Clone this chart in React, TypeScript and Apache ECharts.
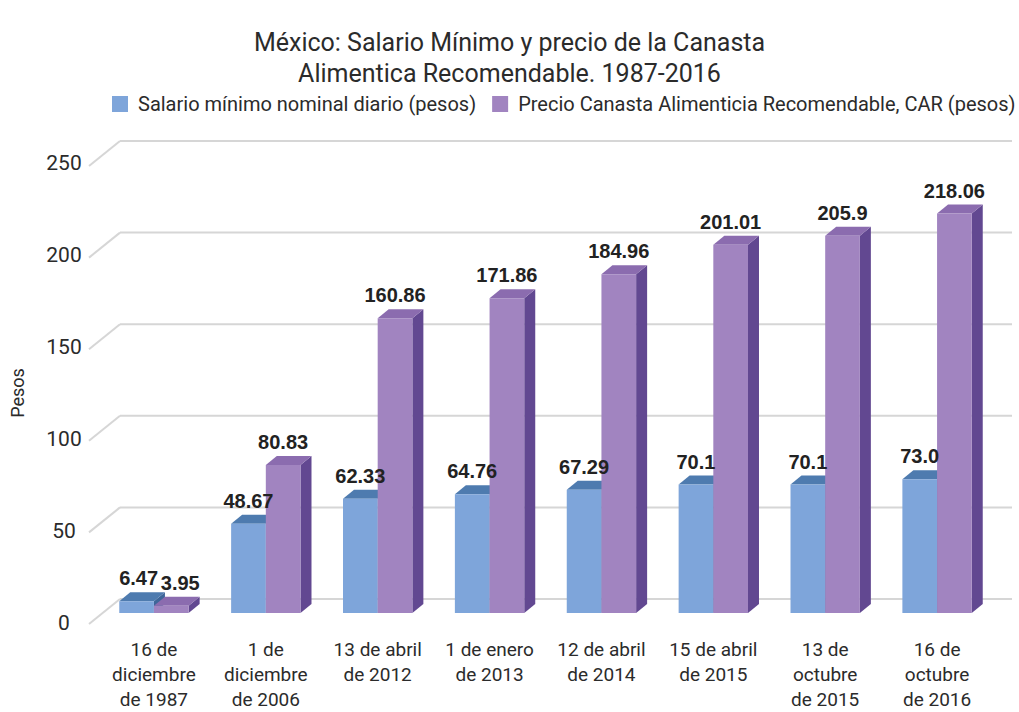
import React, { useEffect, useRef } from "react";
import * as echarts from "echarts";

const categories = [
  "16 de\ndiciembre\nde 1987",
  "1 de\ndiciembre\nde 2006",
  "13 de abril\nde 2012",
  "1 de enero\nde 2013",
  "12 de abril\nde 2014",
  "15 de abril\nde 2015",
  "13 de\noctubre\nde 2015",
  "16 de\noctubre\nde 2016",
];
const salario = [6.47, 48.67, 62.33, 64.76, 67.29, 70.1, 70.1, 73.0];
const canasta = [3.95, 80.83, 160.86, 171.86, 184.96, 201.01, 205.9, 218.06];
const yTicks = [0, 50, 100, 150, 200, 250];

const seriesNames = [
  "Salario mínimo nominal diario (pesos)",
  "Precio Canasta Alimenticia Recomendable, CAR (pesos)",
];

const DX = 11;
const DY = -9;
const FONT = "Roboto";

const fmt = (v: number) => (Number.isInteger(v) ? v.toFixed(1) : String(v));

const barGeom = (side: number, api: any, value?: number) => {
  const idx = api.value(0);
  const v = value === undefined ? api.value(1) : value;
  const base = api.coord([idx, 0]);
  const tp = api.coord([idx, v]);
  const band = api.size([1, 0])[0];
  const w = band * 0.31;
  const x0 = side === 0 ? base[0] - w : base[0];
  return { v, x0, x1: x0 + w, w, y0: base[1], y1: tp[1] };
};

const makeBarRender =
  (side: number, front: string, top: string, sideC: string) =>
  (params: any, api: any) => {
    const { x0, x1, w, y0, y1 } = barGeom(side, api);
    return {
      type: "group",
      children: [
        {
          type: "polygon",
          shape: { points: [[x1, y1], [x1 + DX, y1 + DY], [x1 + DX, y0 + DY], [x1, y0]] },
          style: { fill: sideC },
        },
        {
          type: "polygon",
          shape: { points: [[x0, y1], [x0 + DX, y1 + DY], [x1 + DX, y1 + DY], [x1, y1]] },
          style: { fill: top },
        },
        {
          type: "rect",
          shape: { x: x0, y: y1, width: w, height: y0 - y1 },
          style: { fill: front },
        },
      ],
    };
  };

const makeLabelRender = (side: number) => (params: any, api: any) => {
  const idx = params.dataIndex;
  const { v, x0, x1, y1 } = barGeom(side, api);
  // nudge apart when the pair's labels would sit at the same height
  const other = side === 0 ? canasta[idx] : salario[idx];
  const oy = barGeom(1 - side, api, other).y1;
  let shift = 0;
  if (Math.abs(oy - y1) < 22) shift = side === 0 ? 2 : 9;
  return {
    type: "text",
    style: {
      text: fmt(v),
      x: (x0 + x1) / 2 + shift,
      y: y1 - 23,
      align: "center",
      verticalAlign: "middle",
      fontFamily: "Liberation Sans",
      fontWeight: "bold",
      fontSize: 20,
      fill: "#222",
    },
  };
};

const gridRender = (params: any, api: any) => {
  const v = api.value(1);
  const y = api.coord([0, v])[1];
  const cs = params.coordSys;
  const bx = cs.x + 22;
  const by = y - 14;
  const st = { stroke: "#d6d6d6", lineWidth: 2 };
  return {
    type: "group",
    children: [
      { type: "line", shape: { x1: cs.x - 9, y1: y + 11, x2: bx, y2: by }, style: st },
      { type: "line", shape: { x1: bx, y1: by, x2: cs.x + cs.width + 19, y2: by }, style: st },
    ],
  };
};

export default function App() {
  const ref = useRef<HTMLDivElement>(null);
  useEffect(() => {
    if (!ref.current) return;
    const chart = echarts.init(ref.current, null, { renderer: "svg" });
    const common = {
      type: "custom",
      xAxisIndex: 0,
      yAxisIndex: 0,
      clip: false,
      encode: { x: 0, y: 1 },
    };
    chart.setOption({
      animation: false,
      backgroundColor: "#ffffff",
      title: {
        text: "México: Salario Mínimo y precio de la Canasta\nAlimentica Recomendable. 1987-2016",
        left: "center",
        top: 27,
        padding: 0,
        textStyle: {
          fontFamily: FONT,
          fontWeight: "normal",
          fontSize: 25,
          lineHeight: 31,
          color: "#2b2b2b",
        },
      },
      legend: {
        data: seriesNames,
        left: 112,
        top: 94,
        padding: 0,
        icon: "rect",
        itemWidth: 16,
        itemHeight: 16,
        itemGap: 16,
        textStyle: { fontFamily: FONT, fontSize: 20, color: "#2b2b2b", padding: [0, 0, 0, 5] },
      },
      grid: [
        { left: 98, right: 26, top: 155, bottom: 97 },
        { left: 98, right: 26, top: 163, bottom: 89 },
      ],
      xAxis: [
        {
          type: "category",
          gridIndex: 0,
          data: categories,
          axisLine: { show: false },
          axisTick: { show: false },
          axisLabel: {
            margin: 24,
            interval: 0,
            fontFamily: FONT,
            fontSize: 19,
            lineHeight: 25,
            color: "#2b2b2b",
          },
        },
        { type: "category", gridIndex: 1, data: categories, show: false },
      ],
      yAxis: [
        { type: "value", gridIndex: 0, min: 0, max: 250, interval: 50, show: false },
        {
          type: "value",
          gridIndex: 1,
          min: 0,
          max: 250,
          interval: 50,
          splitLine: { show: false },
          axisLine: { show: false },
          axisTick: { show: false },
          axisLabel: {
            margin: 35,
            align: "center",
            fontFamily: FONT,
            fontSize: 21,
            color: "#2b2b2b",
          },
          name: "Pesos",
          nameLocation: "middle",
          nameGap: 73,
          nameTextStyle: { fontFamily: FONT, fontSize: 18, color: "#2b2b2b" },
        },
      ],
      series: [
        {
          ...common,
          name: "grid",
          silent: true,
          z: 1,
          renderItem: gridRender,
          data: yTicks.map((v) => [0, v]),
        },
        {
          ...common,
          name: seriesNames[0],
          z: 2,
          itemStyle: { color: "#7ea5da" },
          renderItem: makeBarRender(0, "#7ea5da", "#4e7baf", "#3e6699"),
          data: salario.map((v, i) => [i, v]),
        },
        {
          ...common,
          name: seriesNames[1],
          z: 3,
          itemStyle: { color: "#a184c0" },
          renderItem: makeBarRender(1, "#a184c0", "#8b6caf", "#624891"),
          data: canasta.map((v, i) => [i, v]),
        },
        {
          ...common,
          name: "labels-salario",
          silent: true,
          z: 4,
          renderItem: makeLabelRender(0),
          data: salario.map((v, i) => [i, v]),
        },
        {
          ...common,
          name: "labels-canasta",
          silent: true,
          z: 4,
          renderItem: makeLabelRender(1),
          data: canasta.map((v, i) => [i, v]),
        },
      ],
    });
    return () => chart.dispose();
  }, []);
  return (
    <div
      ref={ref}
      style={{ position: "absolute", left: 0, top: 0, width: 1019, height: 712 }}
    />
  );
}
